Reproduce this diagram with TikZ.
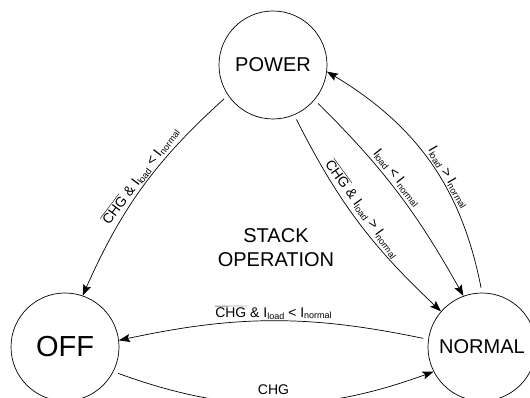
\documentclass[tikz,border=0pt]{standalone}
\usepackage{fontspec}
\setmainfont{Liberation Sans}
\usetikzlibrary{arrows.meta}
\newcommand\lsub[1]{\raisebox{-2pt}{\fontsize{9}{10}\selectfont #1}}
\newcommand\ovlchg{$\overline{\mbox{CHG}}$}
\begin{document}
\begin{tikzpicture}[x=1pt,y=1pt,
  state/.style={circle,draw,line width=0.7pt,minimum size=108pt,inner sep=0pt,font=\fontsize{20}{24}\selectfont},
  trans/.style={line width=0.7pt,-{Stealth[length=11pt,width=8pt,inset=2pt]},shorten <=5pt},
  lbl/.style={font=\fontsize{14}{16}\selectfont,sloped,inner sep=1.5pt}]
\useasboundingbox (0,0) rectangle (530,398);
\node[state] (POWER) at (273,333) {POWER};
\node[state,font=\fontsize{29}{34}\selectfont] (OFF) at (65,51) {OFF};
\node[state] (NORMAL) at (482,51) {NORMAL};
\node[align=center,font=\fontsize{20}{24}\selectfont] (stack) at (276,150) {STACK\\OPERATION};
\draw[trans] (POWER.214) to[bend right=12] node[lbl,pos=0.47,above] {\ovlchg{} \& I\lsub{load} < I\lsub{normal}} (OFF.71);
\draw[trans] (POWER.293) to[bend right=10] node[lbl,pos=0.47,above=2.5pt] {\ovlchg{} \& I\lsub{load} > I\lsub{normal}} (NORMAL.139);
\draw[trans] (POWER.320) to[bend left=8] node[lbl,pos=0.45,above=1pt] {I\lsub{load} < I\lsub{normal}} (NORMAL.110);
\draw[trans] (NORMAL.90) to[bend right=24] node[lbl,pos=0.42,above] {I\lsub{load} > I\lsub{normal}} (POWER.353);
\draw[trans] (NORMAL.172) to[bend right=12] node[lbl,pos=0.5,above] {\ovlchg{} \& I\lsub{load} < I\lsub{normal}} (OFF.7);
\draw[trans] (OFF.333) to[bend right=20] node[lbl,pos=0.5,above=7pt] {CHG} (NORMAL.207);
\end{tikzpicture}
\end{document}
